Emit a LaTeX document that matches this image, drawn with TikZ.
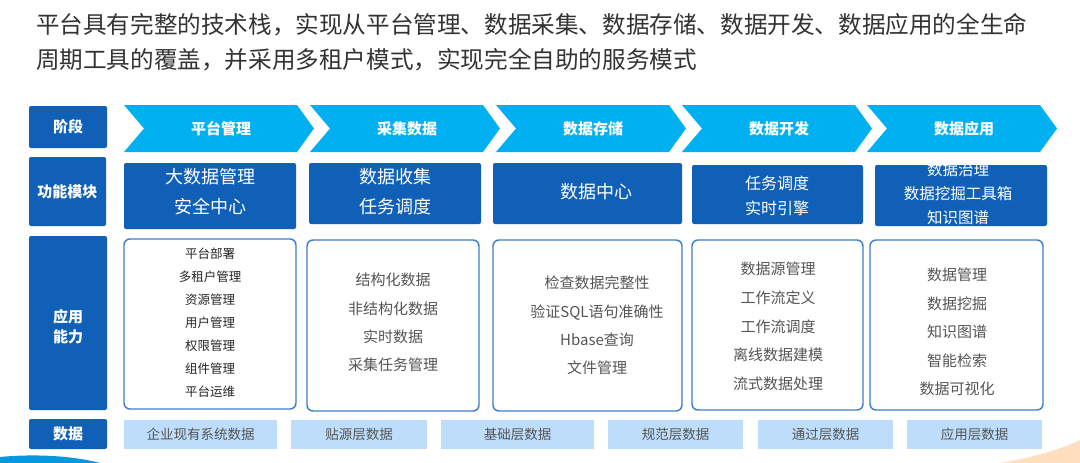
\documentclass[tikz,border=0pt]{standalone}
\usepackage{fontspec}
\setmainfont{Noto Sans CJK SC}
\definecolor{darkblue}{HTML}{1160B8}
\definecolor{chevblue}{HTML}{00B0F0}
\definecolor{lightblue}{HTML}{BDDDFB}
\definecolor{borderblue}{HTML}{3A7DCC}
\definecolor{titlegray}{HTML}{333333}
\definecolor{textgray}{HTML}{555555}
\tikzset{
  labelbox/.style={fill=darkblue, rounded corners=2pt},
  labeltext/.style={text=white, font=\bfseries\fontsize{15}{18}\selectfont, align=center},
  chevshape/.style={fill=chevblue},
  chevtext/.style={text=white, font=\bfseries\fontsize{15}{18}\selectfont},
  modbox/.style={fill=darkblue, rounded corners=2pt},
  modtext/.style={text=white, align=center},
  capbox/.style={draw=borderblue, line width=1.4pt, fill=white, rounded corners=6pt},
  captext/.style={text=textgray, align=center},
  databox/.style={fill=lightblue},
  datatext/.style={text=textgray, font=\fontsize{13.5}{16}\selectfont},
}
\begin{document}
\begin{tikzpicture}[x=1pt,y=-1pt]
\useasboundingbox (0,0) rectangle (1080,463);
% title
\node[anchor=west, text=titlegray, font=\fontsize{23.6}{28}\selectfont, inner sep=0] (t1) at (36,25) {平台具有完整的技术栈，实现从平台管理、数据采集、数据存储、数据开发、数据应用的全生命};
\node[anchor=west, text=titlegray, font=\fontsize{23.6}{28}\selectfont, inner sep=0] (t2) at (36,60) {周期工具的覆盖，并采用多租户模式，实现完全自助的服务模式};

% left labels
\fill[labelbox] (29,106) rectangle (107,148);
\node[labeltext] (l1) at (68,127) {阶段};
\fill[labelbox] (29,157) rectangle (106,226);
\node[labeltext] (l2) at (67.5,191.5) {功能模块};
\fill[labelbox] (29,236) rectangle (107,410);
\node[labeltext, font=\bfseries\fontsize{15}{20}\selectfont] (l3) at (68,327) {应用\\能力};
\fill[labelbox] (29,419) rectangle (107,449);
\node[labeltext] (l4) at (68,434) {数据};

% chevrons
\foreach \x/\t/\n in {124/平台管理/c1, 310/采集数据/c2, 496/数据存储/c3, 682/数据开发/c4, 867/数据应用/c5}{
  \fill[chevshape] (\x,105) -- ++(173,0) -- ++(17,23.5) -- ++(-17,23.5) -- ++(-173,0) -- ++(20,-23.5) -- cycle;
  \node[chevtext] (\n) at (\x+97,128.5) {\t};
}

% module boxes
\fill[modbox] (124,163) rectangle (296,229);
\node[modtext, font=\fontsize{18}{30}\selectfont] (m1) at (210,192) {大数据管理\\安全中心};
\fill[modbox] (309,163) rectangle (481,224);
\node[modtext, font=\fontsize{18}{30}\selectfont] (m2) at (395,192) {数据收集\\任务调度};
\fill[modbox] (493,163) rectangle (682,224);
\node[modtext, font=\fontsize{18}{22}\selectfont] (m3) at (596,192) {数据中心};
\fill[modbox] (692,165) rectangle (863,224);
\node[modtext, font=\fontsize{16}{25}\selectfont] (m4) at (777,195.5) {任务调度\\实时引擎};
\begin{scope}
\clip (875,165) rectangle (1047,226);
\fill[modbox] (875,165) rectangle (1047,226);
\node[modtext, font=\fontsize{15.5}{24}\selectfont] (m5) at (958,194) {数据治理\\数据挖掘工具箱\\知识图谱};
\end{scope}

% capability boxes
\draw[capbox] (124,239) rectangle (296,409);
\node[captext, text=black!85, font=\fontsize{12.5}{23}\selectfont] (a1) at (210,323) {平台部署\\多租户管理\\资源管理\\用户管理\\权限管理\\组件管理\\平台运维};
\draw[capbox] (307,240) rectangle (479,411);
\node[captext, font=\fontsize{15}{28.3}\selectfont] (a2) at (393,322.5) {结构化数据\\非结构化数据\\实时数据\\采集任务管理};
\draw[capbox] (493,240) rectangle (682,411);
\node[captext, font=\fontsize{15}{28.3}\selectfont] (a3) at (597,325.5) {检查数据完整性\\验证SQL语句准确性\\Hbase查询\\文件管理};
\draw[capbox] (692,240) rectangle (863,410);
\node[captext, font=\fontsize{15}{28.7}\selectfont] (a4) at (778,326.5) {数据源管理\\工作流定义\\工作流调度\\离线数据建模\\流式数据处理};
\draw[capbox] (870,240) rectangle (1043,410);
\node[captext, font=\fontsize{15}{28.5}\selectfont] (a5) at (957,332) {数据管理\\数据挖掘\\知识图谱\\智能检索\\数据可视化};

% data row
\foreach \xa/\xb/\t/\n in {124/277/企业现有系统数据/d1, 291/427/贴源层数据/d2, 441/594/基础层数据/d3, 608/743/规范层数据/d4, 758/893/通过层数据/d5, 907/1042/应用层数据/d6}{
  \fill[databox] (\xa,420) rectangle (\xb,449);
  \node[datatext] (\n) at ({(\xa+\xb)/2},434) {\t};
}

% decorations
\fill[chevblue!70!darkblue] (0,457) .. controls (30,454) and (70,455) .. (100,463) -- (0,463) -- cycle;
\fill[orange!25] (1080,440) .. controls (1060,450) and (1030,458) .. (1000,463) -- (1080,463) -- cycle;
\end{tikzpicture}
\end{document}
